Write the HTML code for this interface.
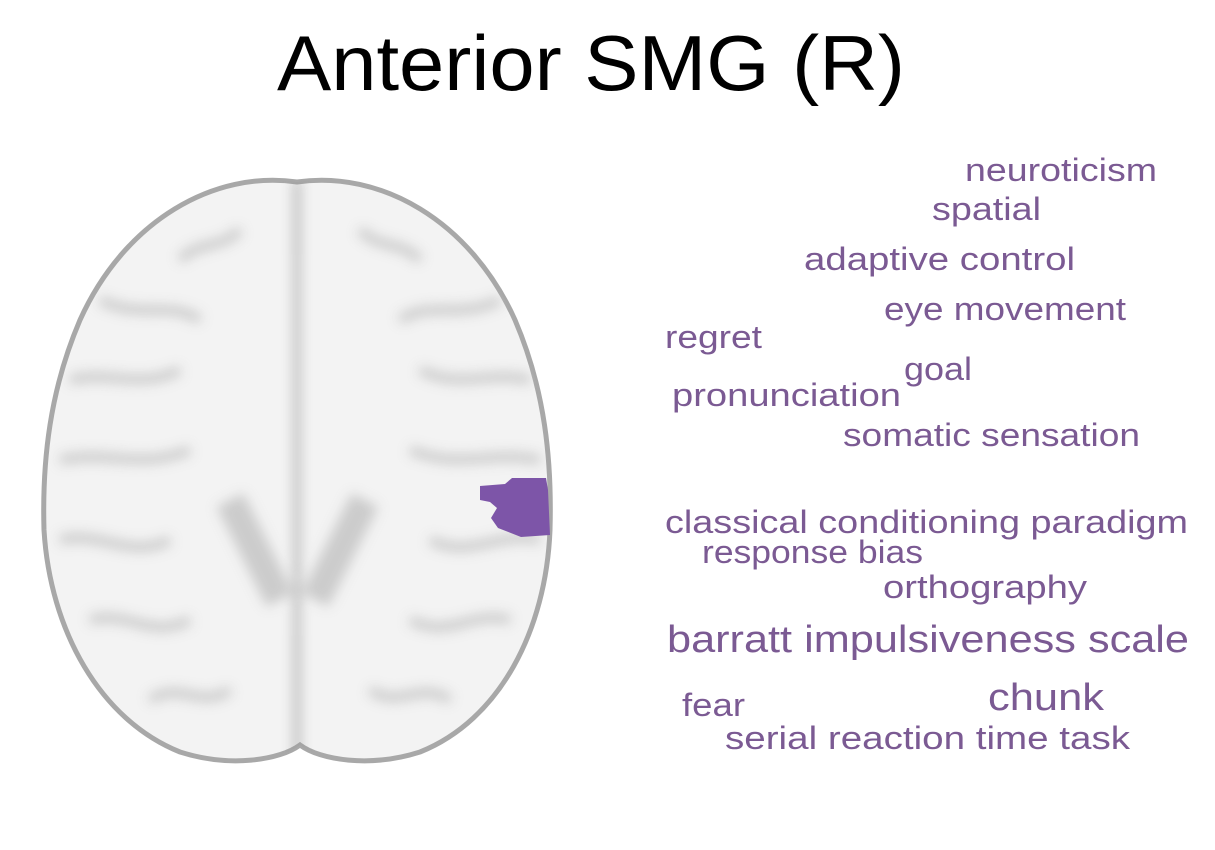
<!DOCTYPE html>
<html><head><meta charset="utf-8"><style>
html,body{margin:0;padding:0;background:#fff;}
svg{display:block;font-family:"Liberation Sans",sans-serif;}
</style></head><body>
<svg width="1215" height="850" viewBox="0 0 1215 850">
<defs>
<filter id="blur" x="-20%" y="-20%" width="140%" height="140%"><feGaussianBlur stdDeviation="6"/></filter>
<clipPath id="brainclip"><path d="M297,182 C380,170 470,220 515,320 C545,390 552,460 550,530 C546,630 500,720 420,752 C370,768 320,760 300,745 C280,760 230,768 180,752 C100,720 50,630 44,530 C42,460 50,390 80,320 C125,220 215,170 297,182 Z"/></clipPath>
</defs>
<text x="591" y="90" font-size="78" text-anchor="middle" textLength="628" lengthAdjust="spacingAndGlyphs" fill="#000">Anterior SMG (R)</text>
<g>
<path d="M297,182 C380,170 470,220 515,320 C545,390 552,460 550,530 C546,630 500,720 420,752 C370,768 320,760 300,745 C280,760 230,768 180,752 C100,720 50,630 44,530 C42,460 50,390 80,320 C125,220 215,170 297,182 Z" fill="#f3f3f3" stroke="#a8a8a8" stroke-width="5"/>
<g clip-path="url(#brainclip)" filter="url(#blur)" stroke="#c4c4c4" stroke-width="9" fill="none" opacity="0.9">
<path d="M297,180 L297,760" stroke="#9a9a9a" stroke-width="5"/>
<path d="M240,230 C220,250 200,240 180,260"/><path d="M360,230 C380,250 400,240 420,260"/>
<path d="M100,300 C140,320 170,300 200,320"/><path d="M500,300 C460,320 430,300 400,320"/>
<path d="M70,380 C110,370 140,390 180,370"/><path d="M530,380 C490,370 460,390 420,370"/>
<path d="M60,460 C110,450 140,470 190,450"/><path d="M540,460 C490,450 460,470 410,450"/>
<path d="M60,540 C100,530 130,560 170,540"/><path d="M540,540 C500,530 470,560 430,540"/>
<path d="M90,620 C130,610 150,640 190,620"/><path d="M510,620 C470,610 450,640 410,620"/>
<path d="M150,700 C180,680 200,710 230,690"/><path d="M450,700 C420,680 400,710 370,690"/>
<path d="M230,500 C250,540 270,580 280,600" stroke="#c8c8c8" stroke-width="30"/>
<path d="M365,500 C345,540 325,580 315,600" stroke="#c8c8c8" stroke-width="30"/>
</g>
<path d="M480,486 L505,484 L512,478 L546,478 L548,490 L550,535 L521,537 L498,528 L491,518 L497,508 L490,502 L480,500 Z" fill="#7d55a8"/>
</g>
<g fill="#7b5a93">
<text x="965" y="181" font-size="32" textLength="192" lengthAdjust="spacingAndGlyphs">neuroticism</text>
<text x="932" y="220" font-size="32" textLength="109" lengthAdjust="spacingAndGlyphs">spatial</text>
<text x="804" y="270" font-size="32" textLength="271" lengthAdjust="spacingAndGlyphs">adaptive control</text>
<text x="884" y="320" font-size="32" textLength="242" lengthAdjust="spacingAndGlyphs">eye movement</text>
<text x="665" y="348" font-size="32" textLength="97" lengthAdjust="spacingAndGlyphs">regret</text>
<text x="904" y="380" font-size="32" textLength="68" lengthAdjust="spacingAndGlyphs">goal</text>
<text x="672" y="406" font-size="32" textLength="229" lengthAdjust="spacingAndGlyphs">pronunciation</text>
<text x="843" y="446" font-size="32" textLength="297" lengthAdjust="spacingAndGlyphs">somatic sensation</text>
<text x="665" y="533" font-size="32" textLength="523" lengthAdjust="spacingAndGlyphs">classical conditioning paradigm</text>
<text x="702" y="563" font-size="32" textLength="221" lengthAdjust="spacingAndGlyphs">response bias</text>
<text x="883" y="598" font-size="32" textLength="204" lengthAdjust="spacingAndGlyphs">orthography</text>
<text x="667" y="652" font-size="38" textLength="522" lengthAdjust="spacingAndGlyphs">barratt impulsiveness scale</text>
<text x="682" y="716" font-size="32" textLength="63" lengthAdjust="spacingAndGlyphs">fear</text>
<text x="988" y="710" font-size="38" textLength="116" lengthAdjust="spacingAndGlyphs">chunk</text>
<text x="725" y="749" font-size="32" textLength="405" lengthAdjust="spacingAndGlyphs">serial reaction time task</text>
</g>
</svg>
</body></html>
